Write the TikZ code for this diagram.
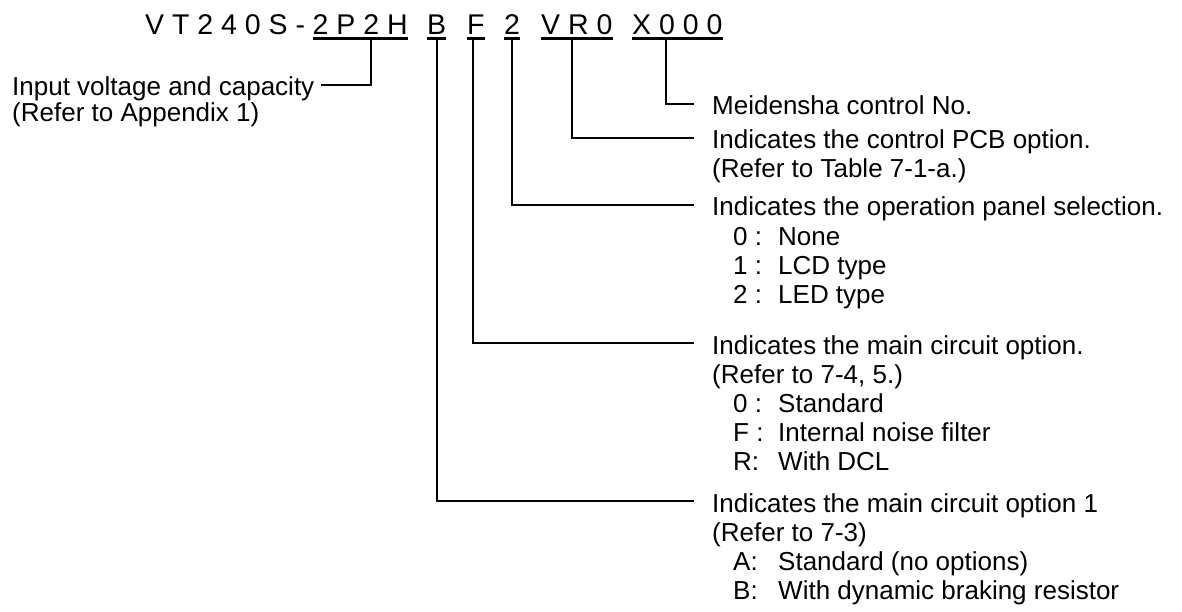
\documentclass[tikz,border=0pt]{standalone}
\usepackage{fontspec}
\setmainfont{Liberation Sans}

\begin{document}
\begin{tikzpicture}[x=1pt,y=-1pt,
	txt/.style={anchor=base west,inner sep=0pt,font=\fontsize{26}{29}\selectfont},
	code/.style={anchor=base west,inner sep=0pt,font=\fontsize{28.5}{32}\selectfont},
	uline/.style={line width=2.8pt},
	lead/.style={line width=1.4pt}]
	\useasboundingbox (0,0) rectangle (1182,612);
	
	%model code
	\node[code] (pre) at (145,35)   {V T 2 4 0 S -};
	\node[code] (cap) at (312.5,35) {2 P 2 H};
	\node[code] (mc1) at (427,35)   {B};
	\node[code] (mc)  at (467,35)   {F};
	\node[code] (pnl) at (504,35)   {2};
	\node[code] (pcb) at (541,35)   {V R 0};
	\node[code] (ctl) at (632,35)   {X 0 0 0};
	\foreach \g in {cap,mc1,mc,pnl,pcb,ctl}
		\draw[uline] ([yshift=-3.5pt]\g.base west) -- ([yshift=-3.5pt]\g.base east);
	
	%leader tops
	\coordinate (capt) at (371,38);
	\coordinate (mc1t) at (437,38);
	\coordinate (mct)  at (473,38);
	\coordinate (pnlt) at (512,38);
	\coordinate (pcbt) at (572,38);
	\coordinate (ctlt) at (666,38);
	
	%left label
	\node[txt] (inp)    at (12,96)  {Input voltage and capacity};
	\node[txt] (inpref) at (12,122) {(Refer to Appendix 1)};
	
	%right labels
	\node[txt] (ctlnote) at (712,115) {Meidensha control No.};
	\node[txt] (pcbnote) at (712,149) {Indicates the control PCB option.};
	\node[txt] (pcbref)  at (712,178) {(Refer to Table 7-1-a.)};
	\node[txt] (pnlnote) at (712,216) {Indicates the operation panel selection.};
	\foreach \k/\t [count=\i] in {0 :/None,1 :/LCD type,2 :/LED type}{
		\node[txt] (pnlk\i) at (733,216+29*\i) {\k};
		\node[txt] (pnlv\i) at (778,216+29*\i) {\t};
	}
	\node[txt] (mcnote) at (712,354) {Indicates the main circuit option.};
	\node[txt] (mcref)  at (712,383) {(Refer to 7-4, 5.)};
	\foreach \k/\t [count=\i] in {0 :/Standard,F :/Internal noise filter,R:/With DCL}{
		\node[txt] (mck\i) at (733,383+29*\i) {\k};
		\node[txt] (mcv\i) at (778,383+29*\i) {\t};
	}
	\node[txt] (mc1note) at (712,512) {Indicates the main circuit option 1};
	\node[txt] (mc1ref)  at (712,541) {(Refer to 7-3)};
	\foreach \k/\t [count=\i] in {A:/Standard (no options),B:/With dynamic braking resistor}{
		\node[txt] (mc1k\i) at (733,541+29*\i) {\k};
		\node[txt] (mc1v\i) at (778,541+29*\i) {\t};
	}
	
	%leaders
	\draw[lead] (capt) |- ([shift={(6pt,11pt)}]inp.base east);
	\draw[lead] (ctlt) |- ([shift={(-18pt,11pt)}]ctlnote.base west);
	\draw[lead] (pcbt) |- ([shift={(-18pt,11pt)}]pcbnote.base west);
	\draw[lead] (pnlt) |- ([shift={(-18pt,11pt)}]pnlnote.base west);
	\draw[lead] (mct)  |- ([shift={(-18pt,11pt)}]mcnote.base west);
	\draw[lead] (mc1t) |- ([shift={(-18pt,11pt)}]mc1note.base west);
\end{tikzpicture}
\end{document}
